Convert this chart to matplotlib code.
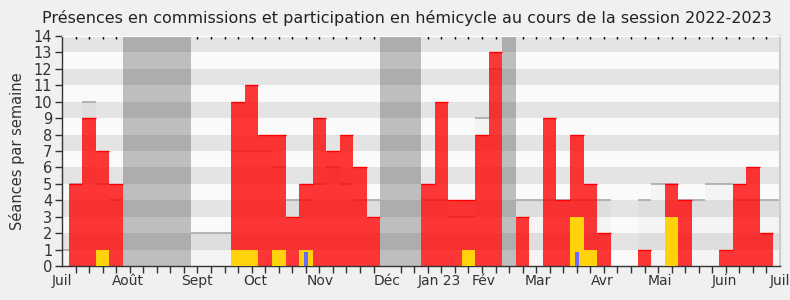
import matplotlib
matplotlib.use("Agg")
import matplotlib.pyplot as plt
import numpy as np

# weekly data, week index 0..53 (session 2022-2023)
weeks = list(range(54))
presence = [0, 5, 9, 7, 5, 0, 0, 0, 0, 0,
            0, 0, 0, 10, 11, 8, 8, 3, 5, 9,
            7, 8, 6, 3, 0, 0, 0, 5, 10, 4,
            4, 8, 13, 0, 3, 0, 9, 4, 8, 5,
            2, 0, 0, 1, 0, 5, 4, 0, 0, 1,
            5, 6, 2, 0]
interventions = [0, 0, 0, 1, 0, 0, 0, 0, 0, 0,
                 0, 0, 0, 1, 1, 0, 1, 0, 1, 0,
                 0, 0, 0, 0, 0, 0, 0, 0, 0, 0,
                 1, 0, 0, 0, 0, 0, 0, 0, 3, 1,
                 0, 0, 0, 0, 0, 3, 0, 0, 0, 0,
                 0, 0, 0, 0]
questions = [0] * 54
questions[18] = 0.85
questions[38] = 0.85
mediane = [1, 5, 10, 5, 4, 0, 0, 0, 0, 0,
           2, 2, 2, 7, 7, 7, 6, 4, 4, 5,
           6, 5, 4, 4, 0, 0, 0, 4, 4, 3,
           3, 9, 12, 0, 4, 4, 4, 4, 4, 4,
           4, 0, 0, 4, 5, 5, 4, 4, 5, 5,
           4, 4, 4, 4]
vacances = [(4.5, 9.5), (23.5, 26.5), (32.5, 33.5)]
mois = ["Juil", "Août", "Sept", "Oct", "Nov", "Déc", "Jan 23", "Fév",
        "Mar", "Avr", "Mai", "Juin", "Juil"]
mois_pos = [0, 4.87, 9.93, 14.3, 19.04, 24.0, 27.85, 31.1, 35.1, 39.9,
            44.15, 48.9, 53]

fig = plt.figure(figsize=(7.9, 3.0), dpi=100, facecolor="#f0f0f0")
ax = fig.add_axes([62 / 790, 1 - 266 / 300, 718 / 790, 230 / 300])
ax.set_facecolor("#fafafa")

# vacation periods
for a, b in vacances:
    ax.axvspan(a, b, color="#bebebe", lw=0, zorder=0.5)
# horizontal stripes
for i in range(1, 14, 2):
    ax.axhspan(i, i + 1, color="black", alpha=0.085, lw=0, zorder=0.6)

w = np.array(weeks)
med = np.array(mediane)
ax.bar(w, med, width=1, color="black", alpha=0.025, lw=0, zorder=1)
m = med > 0
ax.hlines(med[m], w[m] - 0.5, w[m] + 0.5, color="#aaaaaa", lw=1.2, zorder=1.1)

pres = np.array(presence)
ax.bar(w, pres, width=1, color="#ff0000", alpha=0.78, lw=0, zorder=2)
p = pres > 0
ax.hlines(pres[p], w[p] - 0.5, w[p] + 0.5, color="#ff0000", lw=1, zorder=2.1)

ax.bar(w, interventions, width=1, color="#ffd20a", lw=0, zorder=3)
ax.bar(w, questions, width=0.3, color="#6a6aff", lw=0, zorder=4)

ax.set_xlim(0, 53)
ax.set_ylim(0, 14)
ax.set_yticks(range(15))
ax.set_xticks(mois_pos)
ax.set_xticklabels(mois)
ax.set_xticks(range(54), minor=True)
ax.tick_params(axis="x", which="major", length=0, pad=6, labelsize=10,
               colors="#333333")
ax.tick_params(axis="x", which="minor", length=5, width=1, color="#333333")
ax.tick_params(axis="y", length=5, width=1, pad=2, labelsize=10.5,
               colors="#333333")

top = ax.secondary_xaxis("top")
top.set_xticks(range(1, 53))
top.tick_params(direction="in", length=2, width=1, color="black",
                labeltop=False)
top.spines["top"].set_color("white")

for s in ["left", "bottom"]:
    ax.spines[s].set_color("#333333")
    ax.spines[s].set_linewidth(1)
ax.spines["top"].set_color("white")
ax.spines["right"].set_color("#cccccc")
ax.spines["right"].set_linewidth(1.5)

fig.text(0.515, 0.94, "Présences en commissions et participation en hémicycle "
         "au cours de la session 2022-2023", ha="center", va="center",
         fontsize=11.5, color="#222222")
fig.text(0.021, 1 - 151 / 300, "Séances par semaine", rotation=90,
         ha="center", va="center", fontsize=10.5, color="#333333")

fig.savefig("out.png", dpi=100, facecolor=fig.get_facecolor())
